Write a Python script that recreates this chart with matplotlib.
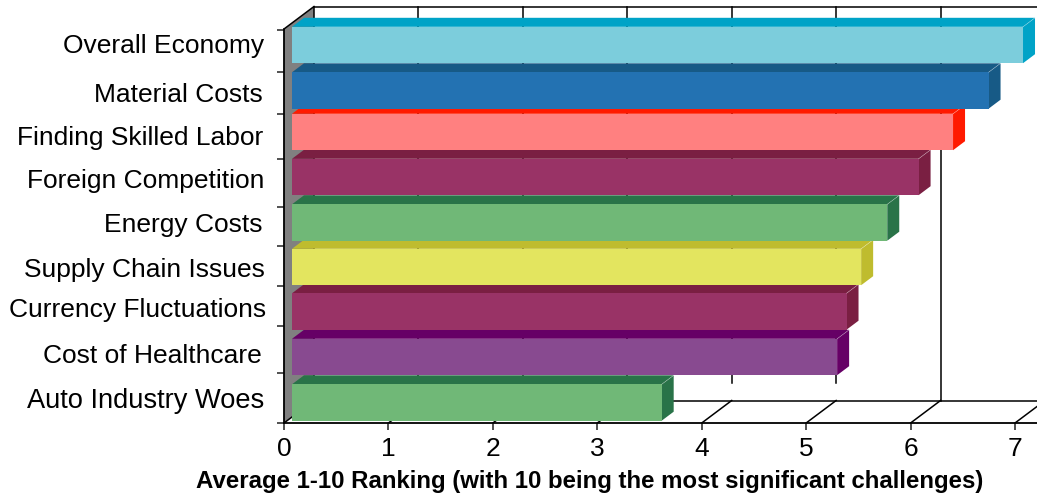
import matplotlib
matplotlib.use('Agg')
import matplotlib.pyplot as plt
from matplotlib.patches import Polygon

plt.rcParams['font.family'] = ['Liberation Sans', 'DejaVu Sans']

categories = ['Overall Economy', 'Material Costs', 'Finding Skilled Labor',
              'Foreign Competition', 'Energy Costs', 'Supply Chain Issues',
              'Currency Fluctuations', 'Cost of Healthcare', 'Auto Industry Woes']
values = [7.00, 6.67, 6.33, 6.00, 5.70, 5.45, 5.31, 5.22, 3.54]
x_ticks = [0, 1, 2, 3, 4, 5, 6, 7]
x_title = 'Average 1-10 Ranking (with 10 being the most significant challenges)'

front_colors = ['#7CCDDC', '#2372B2', '#FF8080', '#993366', '#70B877',
                '#E3E55F', '#993366', '#884A90', '#70B877']
shade_colors = ['#00A3C7', '#175A86', '#FF1A00', '#7A1F42', '#297348',
                '#BFBC2E', '#7A1F42', '#660066', '#297348']

# layout, all in pixels of the 1037x496 figure
W, H = 1037, 496
X0, PX_PER_VAL = 284, 104.43
ROW0, PX_PER_ROW = 45, 44.6
FLOOR_PX, WALL_TOP_PX, AX_RIGHT = 423, 29, 1037
row_nudge = [0, 0.9, -2.2, -1.8, -0.9, -1, -1.1, -0.2, 0.7]
row_ticks_px = [30, 72, 114, 159, 207, 246, 286, 326, 373, 423]
label_right_px = [264, 263, 263, 264, 263, 265, 266, 261.5, 264.5]
label_base_px = [53, 102, 145, 188, 232, 277, 317, 363, 408]
# the last label is set a touch wider, its "Wo" pair kerns tightly otherwise
label_size = [19, 19, 19, 19, 19, 19, 19, 19, 19.6]


def px_row(py):
    return (py - ROW0) / PX_PER_ROW


def px_val(px):
    return (px - X0) / PX_PER_VAL


bar_start = 8 / PX_PER_VAL
bar_h = 36.4 / PX_PER_ROW
bar_dx, bar_dy = 12 / PX_PER_VAL, 9 / PX_PER_ROW
wall_dx, wall_dy = 30 / PX_PER_VAL, 22.5 / PX_PER_ROW

fig = plt.figure(figsize=(W / 100, H / 100), dpi=100, facecolor='white')
ax = fig.add_axes([X0 / W, (H - FLOOR_PX) / H, (AX_RIGHT - X0) / W, FLOOR_PX / H])
ax.set_xlim(0, px_val(AX_RIGHT))
ax.set_ylim(px_row(FLOOR_PX), px_row(0))

floor = px_row(FLOOR_PX)
top = px_row(WALL_TOP_PX)

# grey side wall
ax.add_patch(Polygon([(0, top), (wall_dx, top - wall_dy), (wall_dx, floor - wall_dy), (0, floor)],
                     closed=True, facecolor='#808080', edgecolor='none', zorder=1))

# back wall gridlines, most of them stop short of the floor
for k in x_ticks:
    gx = k + wall_dx
    low = floor - wall_dy if k == 6 else px_row(383)
    ax.plot([gx, gx], [top - wall_dy, low], color='black', lw=1.1, zorder=1.5)
ax.plot([wall_dx, px_val(AX_RIGHT)], [top - wall_dy] * 2, color='black', lw=1.1, zorder=1.5)
ax.plot([0, wall_dx], [top, top - wall_dy], color='black', lw=1.1, zorder=3)

# floor lines
ax.plot([px_val(673), px_val(AX_RIGHT)], [floor - wall_dy] * 2, color='black', lw=1.1, zorder=1.5)
for k in x_ticks:
    ax.plot([k, k + wall_dx], [floor, floor - wall_dy], color='black', lw=1.1, zorder=1.5)

# bars, upper rows painted last so they hide the top face of the row below
for i, (val, fc, sc) in enumerate(zip(values, front_colors, shade_colors)):
    yc = i + row_nudge[i] / PX_PER_ROW
    y_top, y_bot = yc - bar_h / 2, yc + bar_h / 2
    x1, x2 = bar_start, bar_start + val
    z = 2.5 - i * 0.01
    ax.add_patch(Polygon([(x1, y_top), (x1 + bar_dx, y_top - bar_dy), (x2 + bar_dx, y_top - bar_dy), (x2, y_top)],
                         closed=True, facecolor=sc, edgecolor='none', zorder=z))
    ax.add_patch(Polygon([(x2, y_top), (x2 + bar_dx, y_top - bar_dy), (x2 + bar_dx, y_bot - bar_dy), (x2, y_bot)],
                         closed=True, facecolor=sc, edgecolor='none', zorder=z))
    ax.barh(yc, val, height=bar_h, left=bar_start, color=fc, edgecolor='none', zorder=z)
    ax.plot([x2, x2 + bar_dx], [y_top, y_top - bar_dy], color='white', lw=0.5, alpha=0.35, zorder=z)

for sp in ['top', 'right']:
    ax.spines[sp].set_visible(False)
ax.spines['left'].set_bounds(floor, top)
ax.spines['left'].set_linewidth(1.3)
ax.spines['bottom'].set_linewidth(1.3)
ax.spines['left'].set_zorder(4)
ax.spines['bottom'].set_zorder(4)

ax.set_xticks(x_ticks)
ax.set_xticklabels([str(t) for t in x_ticks])
ax.set_yticks([px_row(p) for p in row_ticks_px])
ax.set_yticklabels([])
ax.tick_params(axis='both', length=5, width=1.1, color='#222222')
ax.tick_params(axis='x', labelsize=19, pad=5)

# category labels are hand placed next to the axis
for name, rx, by, fs in zip(categories, label_right_px, label_base_px, label_size):
    ax.text(px_val(rx), px_row(by), name, ha='right', va='baseline', fontsize=fs, color='black', clip_on=False)

fig.text(589.5 / W, 1 - 488 / H, x_title, ha='center', va='baseline', fontsize=17.3, fontweight='bold')

fig.savefig('out.png', dpi=100)
